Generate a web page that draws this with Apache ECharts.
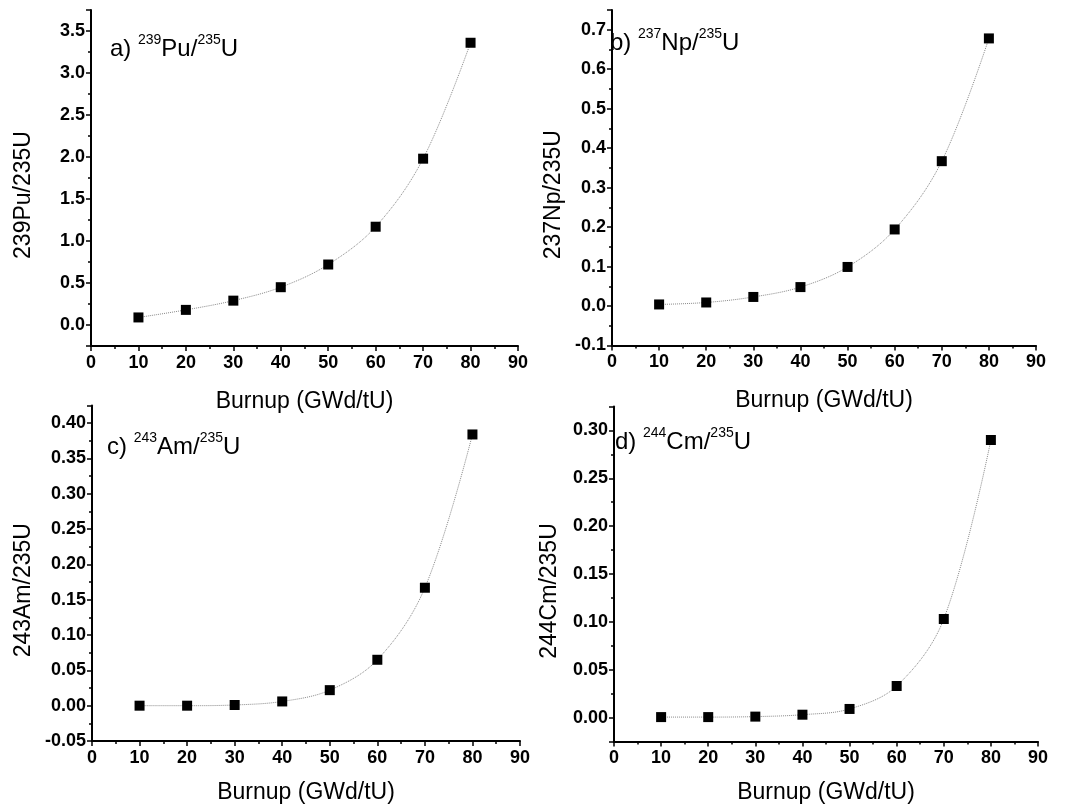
<!DOCTYPE html>
<html>
<head>
<meta charset="utf-8">
<script src="https://cdn.jsdelivr.net/npm/echarts@6/dist/echarts.min.js"></script>
<style>
  html, body { margin: 0; padding: 0; background: #fff; }
  #main { width: 1065px; height: 810px; }
</style>
</head>
<body>
<div id="main"></div>
<script>
// burnup steps and nuclide ratios
var burnup = [10, 20, 30, 40, 50, 60, 70, 80];
var pu239 = [0.09, 0.18, 0.29, 0.45, 0.72, 1.17, 1.98, 3.36];
var np237 = [0.004, 0.009, 0.023, 0.048, 0.099, 0.194, 0.367, 0.678];
var am243 = [0.000, 0.000, 0.001, 0.006, 0.022, 0.065, 0.167, 0.384];
var cm244 = [0.0005, 0.0005, 0.001, 0.003, 0.009, 0.033, 0.103, 0.290];
var xTicks = [0, 10, 20, 30, 40, 50, 60, 70, 80, 90];

var FONT = 'Liberation Sans, Arial, sans-serif';

function pairs(ys) {
  return burnup.map(function (x, i) { return [x, ys[i]]; });
}

var myChart = echarts.init(document.getElementById('main'));

var grids = [
  { left: 91, top: 10, width: 427, height: 336 },
  { left: 612, top: 10, width: 424, height: 335.5 },
  { left: 92, top: 405.5, width: 428, height: 335.5 },
  { left: 614, top: 406.5, width: 424, height: 335 }
];

function xAxis(i, gap) {
  return {
    gridIndex: i, type: 'value', min: xTicks[0], max: xTicks[xTicks.length - 1], interval: 10,
    name: 'Burnup (GWd/tU)', nameLocation: 'middle', nameGap: gap,
    nameTextStyle: { fontFamily: FONT, fontSize: 23, color: '#000' },
    axisLine: { onZero: false, lineStyle: { color: '#000', width: 2 } },
    axisTick: { inside: false, length: 5, lineStyle: { color: '#000', width: 1.5 } },
    minorTick: { show: true, splitNumber: 2, length: 3, lineStyle: { color: '#000', width: 1.5 } },
    axisLabel: { fontFamily: FONT, fontSize: 18, fontWeight: 'bold', color: '#000', margin: 8 },
    splitLine: { show: false }
  };
}

function yAxis(i, name, min, max, opts, dec, gap) {
  var ax = {
    gridIndex: i, type: 'value', min: min, max: max,
    name: name, nameLocation: 'middle', nameGap: gap, nameRotate: 90,
    nameTextStyle: { fontFamily: FONT, fontSize: 23, color: '#000', padding: [0, 34, 0, 0] },
    axisLine: { onZero: false, lineStyle: { color: '#000', width: 2 } },
    axisTick: { inside: false, length: 5, lineStyle: { color: '#000', width: 1.5 } },
    minorTick: { show: true, splitNumber: 2, length: 3, lineStyle: { color: '#000', width: 1.5 } },
    axisLabel: {
      fontFamily: FONT, fontSize: 18, fontWeight: 'bold', color: '#000', margin: 6,
      showMinLabel: opts.showMin, showMaxLabel: false,
      formatter: function (v) { return v.toFixed(dec); }
    },
    splitLine: { show: false }
  };
  if (opts.interval) ax.interval = opts.interval;
  if (opts.splitNumber) ax.splitNumber = opts.splitNumber;
  return ax;
}

function fit(i, ys) {
  return {
    type: 'line', xAxisIndex: i, yAxisIndex: i, data: pairs(ys), smooth: 0.35,
    showSymbol: false, silent: true, z: 1,
    lineStyle: { color: '#8a8a8a', width: 1, type: 'dotted' }
  };
}

function points(i, ys) {
  return {
    type: 'scatter', xAxisIndex: i, yAxisIndex: i, data: pairs(ys),
    symbol: 'rect', symbolSize: 10, z: 3,
    itemStyle: { color: '#000', opacity: 1 }
  };
}

var rich = {
  m: { fontFamily: FONT, fontSize: 24, color: '#000', lineHeight: 28, verticalAlign: 'bottom' },
  s: { fontFamily: FONT, fontSize: 14, color: '#000', lineHeight: 28, verticalAlign: 'top' }
};

function panelLabel(x, y, letter, num, el) {
  return {
    type: 'text', left: x, top: y, z: 10,
    style: {
      text: '{m|' + letter + ') }{s|' + num + '}{m|' + el + '/}{s|235}{m|U}',
      rich: rich
    }
  };
}

var option = {
  backgroundColor: '#fff',
  animation: false,
  grid: grids,
  xAxis: [xAxis(0, 44), xAxis(1, 44), xAxis(2, 40), xAxis(3, 40)],
  yAxis: [
    yAxis(0, '239Pu/235U', -0.25, 3.75, { splitNumber: 8, showMin: false }, 1, 56),
    yAxis(1, '237Np/235U', -0.1, 0.75, { interval: 0.1, showMin: true }, 1, 47),
    yAxis(2, '243Am/235U', -0.05, 0.425, { interval: 0.05, showMin: true }, 2, 57),
    yAxis(3, '244Cm/235U', -0.025, 0.325, { splitNumber: 7, showMin: false }, 2, 53)
  ],
  series: [
    fit(0, pu239), points(0, pu239),
    fit(1, np237), points(1, np237),
    fit(2, am243), points(2, am243),
    fit(3, cm244), points(3, cm244)
  ],
  graphic: [
    panelLabel(110, 33, 'a', '239', 'Pu'),
    panelLabel(610, 27, 'b', '237', 'Np'),
    panelLabel(107, 431, 'c', '243', 'Am'),
    panelLabel(615, 426, 'd', '244', 'Cm')
  ]
};

myChart.setOption(option);
</script>
</body>
</html>
